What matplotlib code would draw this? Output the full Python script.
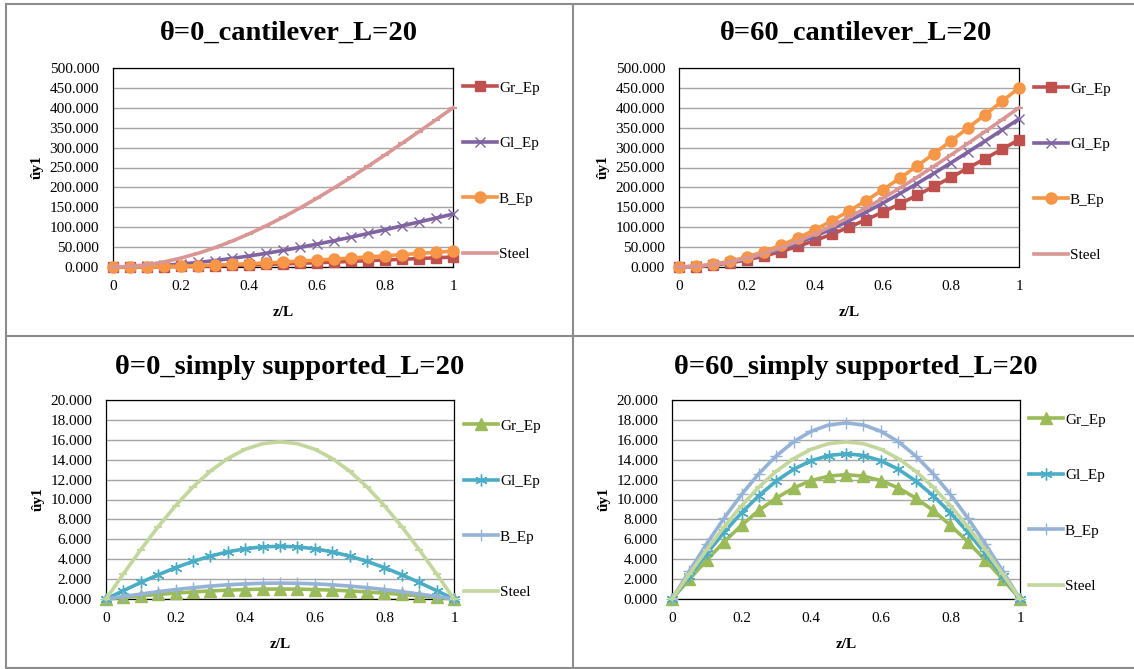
import matplotlib.pyplot as plt
from matplotlib.lines import Line2D

plt.rcParams['font.family'] = ['Liberation Serif', 'DejaVu Serif']

# z/L positions
z = [0, 0.05, 0.1, 0.15, 0.2, 0.25, 0.3, 0.35, 0.4, 0.45, 0.5,
     0.55, 0.6, 0.65, 0.7, 0.75, 0.8, 0.85, 0.9, 0.95, 1.0]

# theta = 0, cantilever
gr0_cant = [0, 0.1, 0.4, 0.8, 1.4, 2.1, 3.0, 4.1, 5.2, 6.5, 7.8, 9.3, 10.8, 12.4, 14.1, 15.8, 17.6, 19.4, 21.3, 23.1, 25.0]
gl0_cant = [0, 0.5, 1.9, 4.3, 7.4, 11.4, 16.2, 21.6, 27.7, 34.3, 41.6, 49.3, 57.5, 66.0, 74.9, 84.2, 93.6, 103.3, 113.1, 123.0, 133.0]
b0_cant = [0, 0.1, 0.6, 1.3, 2.2, 3.4, 4.9, 6.5, 8.3, 10.3, 12.5, 14.8, 17.3, 19.9, 22.5, 25.3, 28.2, 31.1, 34.0, 37.0, 40.0]
steel_cant = [0, 1.5, 5.8, 12.8, 22.4, 34.4, 48.6, 64.9, 83.2, 103.3, 125.0, 148.2, 172.8, 198.6, 225.4, 253.1, 281.6, 310.7, 340.2, 370.0, 400.0]

# theta = 60, cantilever
gr60_cant = [0, 1.2, 4.6, 10.3, 17.9, 27.5, 38.9, 51.9, 66.6, 82.6, 100.0, 118.6, 138.2, 158.8, 180.3, 202.5, 225.3, 248.5, 272.2, 296.0, 320.0]
gl60_cant = [0, 1.4, 5.4, 11.9, 20.8, 32.0, 45.2, 60.4, 77.4, 96.1, 116.3, 137.9, 160.7, 184.7, 209.6, 235.4, 261.9, 288.9, 316.4, 344.1, 372.0]
b60_cant = [0, 1.7, 6.5, 14.4, 25.2, 38.7, 54.7, 73.0, 93.6, 116.2, 140.6, 166.8, 194.4, 223.4, 253.6, 284.8, 316.8, 349.5, 382.7, 416.3, 450.0]

# theta = 0, simply supported
gr0_ss = [0, 0.16, 0.31, 0.46, 0.59, 0.71, 0.81, 0.89, 0.95, 0.99, 1.00, 0.99, 0.95, 0.89, 0.81, 0.71, 0.59, 0.46, 0.31, 0.16, 0]
gl0_ss = [0, 0.84, 1.66, 2.44, 3.15, 3.78, 4.31, 4.74, 5.05, 5.24, 5.30, 5.24, 5.05, 4.74, 4.31, 3.78, 3.15, 2.44, 1.66, 0.84, 0]
b0_ss = [0, 0.25, 0.50, 0.74, 0.95, 1.14, 1.30, 1.43, 1.52, 1.58, 1.60, 1.58, 1.52, 1.43, 1.30, 1.14, 0.95, 0.74, 0.50, 0.25, 0]
steel_ss = [0, 2.52, 4.96, 7.27, 9.38, 11.26, 12.85, 14.12, 15.05, 15.61, 15.80, 15.61, 15.05, 14.12, 12.85, 11.26, 9.38, 7.27, 4.96, 2.52, 0]

# theta = 60, simply supported
gr60_ss = [0, 1.99, 3.92, 5.75, 7.42, 8.91, 10.16, 11.17, 11.90, 12.35, 12.50, 12.35, 11.90, 11.17, 10.16, 8.91, 7.42, 5.75, 3.92, 1.99, 0]
gl60_ss = [0, 2.32, 4.58, 6.72, 8.67, 10.40, 11.87, 13.05, 13.90, 14.42, 14.60, 14.42, 13.90, 13.05, 11.87, 10.40, 8.67, 6.72, 4.58, 2.32, 0]
b60_ss = [0, 2.82, 5.56, 8.14, 10.51, 12.61, 14.39, 15.82, 16.86, 17.49, 17.70, 17.49, 16.86, 15.82, 14.39, 12.61, 10.51, 8.14, 5.56, 2.82, 0]

labels = ['Gr_Ep', 'Gl_Ep', 'B_Ep', 'Steel']
cant_styles = [
    dict(color='#C0504D', marker='s', ms=6.5),
    dict(color='#8064A2', marker='x', ms=7.5, mew=1),
    dict(color='#F79646', marker='o', ms=8),
    dict(color='#D99694', marker='_', ms=6, mew=1.5),
]
ss_styles = [
    dict(color='#9BBB59', marker='^', ms=8),
    dict(color='#4BACC6', marker=(6, 2, 0), ms=8.5, mew=1),
    dict(color='#95B3D7', marker='+', ms=8.5, mew=1),
    dict(color='#C3D69B', marker='_', ms=6, mew=1.5),
]

W, H = 1134, 669
fig = plt.figure(figsize=(W / 100, H / 100), dpi=100)


def px_axes(left, top, right, bottom):
    return fig.add_axes([left / W, 1 - bottom / H, (right - left) / W, (bottom - top) / H])


def panel(box, title, title_xy, series, styles, ymax, ystep, leg_xy):
    ax = px_axes(*box)
    for vals, lab, st in zip(series, labels, styles):
        ax.plot(z, vals, label=lab, lw=2.6, clip_on=False, zorder=3, **st)
    ax.set_xlim(0, 1)
    ax.set_ylim(0, ymax)
    ax.set_xticks([0, 0.2, 0.4, 0.6, 0.8, 1.0])
    ax.set_xticklabels(['0', '0.2', '0.4', '0.6', '0.8', '1'])
    yt = [i * ystep for i in range(int(round(ymax / ystep)) + 1)]
    ax.set_yticks(yt)
    ax.set_yticklabels([f'{v:.3f}' for v in yt])
    ax.tick_params(length=0, labelsize=11)
    ax.tick_params(axis='y', pad=10)
    ax.tick_params(axis='x', pad=9)
    ax.grid(axis='y', color='#A6A6A6', lw=1.0)
    ax.set_axisbelow(True)
    for s in ax.spines.values():
        s.set_color('black')
        s.set_linewidth(0.9)
    ax.set_xlabel('z/L', fontsize=11, fontweight='bold', labelpad=10)
    ax.set_ylabel('ûy1', fontsize=11, fontweight='bold', labelpad=4)
    fig.text(title_xy[0] / W, 1 - title_xy[1] / H, title, fontsize=20.5,
             fontweight='bold', ha='center', va='center')
    ax.legend(loc='center left', bbox_to_anchor=(leg_xy[0] / W, 1 - leg_xy[1] / H),
              bbox_transform=fig.transFigure, frameon=False, fontsize=11,
              borderpad=0, borderaxespad=0, handlelength=2.2, handletextpad=0.15,
              labelspacing=2.74)
    return ax


panel((113, 68, 453, 267), 'θ=0_cantilever_L=20', (289, 33),
      [gr0_cant, gl0_cant, b0_cant, steel_cant], cant_styles, 500, 50, (463, 171))
panel((679, 68, 1019, 267), 'θ=60_cantilever_L=20', (856, 33),
      [gr60_cant, gl60_cant, b60_cant, steel_cant], cant_styles, 500, 50, (1034, 172))
panel((106, 400, 454, 599), 'θ=0_simply supported_L=20', (290, 367),
      [gr0_ss, gl0_ss, b0_ss, steel_ss], ss_styles, 20, 2, (464, 509))
panel((672, 400, 1020, 599), 'θ=60_simply supported_L=20', (856, 367),
      [gr60_ss, gl60_ss, b60_ss, steel_ss], ss_styles, 20, 2, (1029, 503))

# table cell borders
border = dict(color='#8C8C8C', lw=1.5)
for xs, ys in [((6, 1140), (4, 4)), ((6, 6), (4, 668)), ((573, 573), (4, 668)),
               ((6, 1140), (336, 336)), ((6, 1140), (668, 668))]:
    fig.add_artist(Line2D([x / W for x in xs], [1 - y / H for y in ys], **border))

fig.savefig('out.png', dpi=100)
